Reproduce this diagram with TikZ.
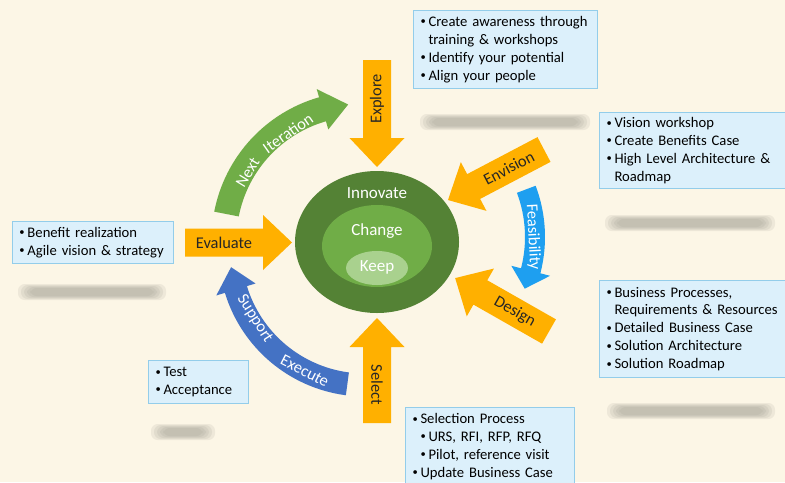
\documentclass[tikz,border=0pt]{standalone}
\usepackage{fontspec}
\setmainfont{Carlito}
\usepackage{tikz}
\usetikzlibrary{positioning}

\definecolor{paper}{HTML}{FCF6E6}
\definecolor{arrowgold}{HTML}{FFB000}
\definecolor{leafgreen}{HTML}{70AD47}
\definecolor{darkgreen}{HTML}{548235}
\definecolor{palegreen}{HTML}{A9D18E}
\definecolor{supportblue}{HTML}{4472C4}
\definecolor{skyblue}{HTML}{1E9FF0}
\definecolor{notefill}{HTML}{DCF0FB}
\definecolor{noteline}{HTML}{93CDEA}
\definecolor{labelgray}{HTML}{262626}

\newlength\pxu
\setlength\pxu{0.3mm}

\newcommand{\itm}{\makebox[9\pxu][l]{\hspace*{1\pxu}\raisebox{1.3pt}{\fontsize{9}{9}\selectfont\textbullet}}}
\newcommand{\cnt}{\hspace*{9\pxu}}

\tikzset{
  notebox/.style={draw=noteline, fill=notefill, line width=1\pxu, anchor=north west, align=left,
    inner xsep=6\pxu, inner ysep=0pt, font=\fontsize{12.5}{15.3}\selectfont},
  arrowlabel/.style={font=\fontsize{14}{16}\selectfont, text=labelgray},
  curvelabel/.style={font=\fontsize{14}{16}\selectfont, text=white},
  corelabel/.style={font=\fontsize{14.5}{17}\selectfont, text=white}
}

% straight block arrow: name, tail, angle, length, label, label rotation
\newcommand{\blockarrow}[6]{%
  \begin{scope}[shift={#2}, rotate=#3]
    \fill[arrowgold] (0,-14) -- (#4-29,-14) -- (#4-29,-27.5) -- (#4,0) -- (#4-29,27.5) -- (#4-29,14) -- (0,14) -- cycle;
    \node[arrowlabel, rotate=#6] (#1) at ({(#4-29)/2},0) {#5};
  \end{scope}}

% curved block arrow: centre, radius, start, head base, tip, shaft half width, head half width, colour
\newcommand{\curvedarrow}[8]{%
  \fill[#8, shift={#1}] ({#3}:{#2+#6}) arc[start angle=#3, end angle=#4, radius={#2+#6}]
    -- ({#4}:{#2+#7}) -- ({#5}:{#2}) -- ({#4}:{#2-#7}) -- ({#4}:{#2-#6})
    arc[start angle=#4, end angle=#3, radius={#2-#6}] -- cycle;}

\begin{document}
\begin{tikzpicture}[x=0.3mm, y=0.3mm]

    \useasboundingbox (0,0) rectangle (785,-482);
    \clip (0,0) rectangle (785,-482);
    \fill[paper] (0,0) rectangle (785,-482);

    % blurred bars
    \foreach \cx/\cy/\w in {505/122/170, 690/223/170, 92/292/148, 691/411/168, 183/432/64}
    {
        \foreach \k in {0,...,4}
        {
            \fill[black!45!paper, opacity=0.12, rounded corners=2mm]
                (\cx-\w/2+\k*3,-\cy+8-\k) rectangle (\cx+\w/2-\k*3,-\cy-8+\k);
        }
    }

    \fill[darkgreen] (377,-242) ellipse [x radius=82, y radius=71];
    \fill[leafgreen] (377,-246) ellipse [x radius=55, y radius=41];
    \fill[palegreen] (377,-268) ellipse [x radius=31, y radius=17];
    \node[corelabel] (innovate) at (377,-193) {Innovate};
    \node[corelabel] (change) at (377,-231) {Change};
    \node[corelabel] (keep) at (377,-267) {Keep};

    \blockarrow{explore}{(377,-60)}{-90}{107}{Explore}{90}
    \blockarrow{select}{(377,-423)}{90}{105}{Select}{-90}
    \blockarrow{evaluate}{(185,-242.5)}{0}{107}{Evaluate}{0}
    \blockarrow{envision}{(544,-149.5)}{207.75}{108.5}{Envision}{27.75}
    \blockarrow{design}{(549,-331.5)}{150.35}{108}{Design}{-29.65}

    \curvedarrow{(360,-240)}{136}{169}{106}{95}{12.5}{21}{leafgreen}
    \curvedarrow{(365,-250)}{135}{262.5}{197}{187.3}{11.5}{20.5}{supportblue}
    \curvedarrow{(400,-237)}{135}{20.7}{-14.5}{-22.5}{10}{20}{skyblue}

    \node[curvelabel, rotate=59, inner sep=0pt] (next) at ([shift={(360,-240)}]149:131) {Next};
    \node[curvelabel, rotate=35, inner sep=0pt] (iteration) at ([shift={(360,-240)}]124:129) {Iteration};
    \node[curvelabel, rotate=-57.5, inner sep=0pt] (support) at ([shift={(365,-250)}]212:130) {Support};
    \node[curvelabel, rotate=-27.3, inner sep=0pt] (execute) at ([shift={(365,-250)}]243.5:135) {Execute};
    \node[curvelabel, rotate=-87, inner sep=0pt] (feasibility) at ([shift={(400,-237)}]0:133) {Feasibility};

    \node[notebox, text width=172\pxu, minimum height=78\pxu] (exploretext) at (413,-10)
        {\itm Create awareness through\\ \cnt training \& workshops\\ \itm Identify your potential\\ \itm Align your people};
    \node[notebox, text width=177\pxu, minimum height=76\pxu] (envisiontext) at (599,-112)
        {\itm Vision workshop\\ \itm Create Benefits Case\\ \itm High Level Architecture \&\\ \cnt Roadmap};
    \node[notebox, text width=177\pxu, minimum height=97\pxu] (designtext) at (599,-280)
        {\itm Business Processes,\\ \cnt Requirements \& Resources\\ \itm Detailed Business Case\\ \itm Solution Architecture\\ \itm Solution Roadmap};
    \node[notebox, text width=157\pxu, minimum height=78\pxu] (selecttext) at (405,-407)
        {\itm Selection Process\\ \hspace*{8\pxu}\itm URS, RFI, RFP, RFQ\\ \hspace*{8\pxu}\itm Pilot, reference visit\\ \itm Update Business Case};
    \node[notebox, text width=149\pxu, minimum height=42\pxu] (evaluatetext) at (12,-221)
        {\itm Benefit realization\\ \itm Agile vision \& strategy};
    \node[notebox, text width=88\pxu, minimum height=43\pxu] (testtext) at (148,-360)
        {\itm Test\\ \itm Acceptance};

\end{tikzpicture}
\end{document}
